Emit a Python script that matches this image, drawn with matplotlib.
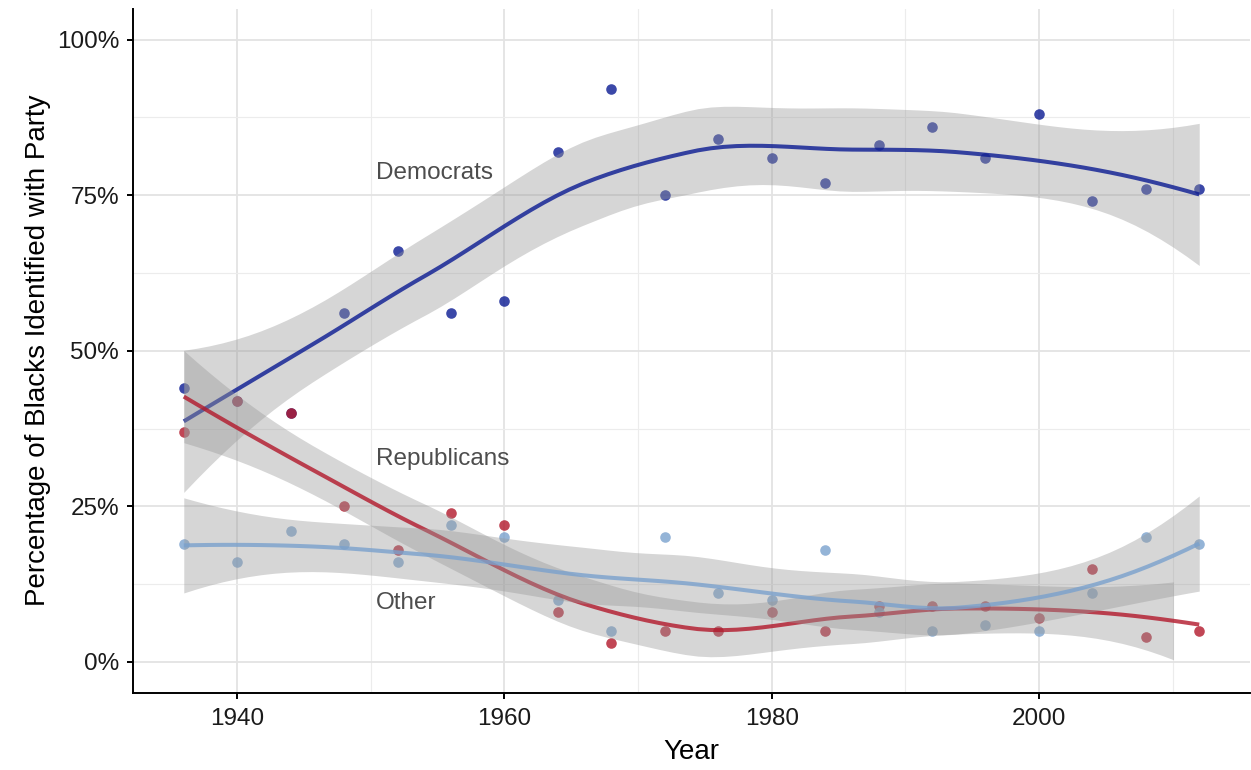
#!/usr/bin/env python3
import math
import numpy as np
import matplotlib
matplotlib.use('Agg')
import matplotlib.pyplot as plt
from matplotlib.ticker import MultipleLocator, FuncFormatter

years = [1936, 1940, 1944, 1948, 1952, 1956, 1960, 1964, 1968, 1972,
         1976, 1980, 1984, 1988, 1992, 1996, 2000, 2004, 2008, 2012]
democrats = [44, 42, 40, 56, 66, 56, 58, 82, 92, 75,
             84, 81, 77, 83, 86, 81, 88, 74, 76, 76]
republicans = [37, 42, 40, 25, 18, 24, 22, 8, 3, 5,
               5, 8, 5, 9, 9, 9, 7, 15, 4, 5]
other = [19, 16, 21, 19, 16, 22, 20, 10, 5, 20,
         11, 10, 18, 8, 5, 6, 5, 11, 20, 19]

party_names = ['Democrats', 'Republicans', 'Other']
party_colors = ['#0a1a92', '#b2182b', '#7aa1cd']
label_pos = [(1950.4, 0.785), (1950.4, 0.326), (1950.4, 0.095)]


def t_quantile(p, df):
    # numeric inverse of student t cdf, no scipy here
    c = math.exp(math.lgamma((df + 1) / 2) - math.lgamma(df / 2)) / math.sqrt(df * math.pi)
    grid = np.linspace(0, 20, 200001)
    pdf = c * (1 + grid ** 2 / df) ** (-(df + 1) / 2)
    cdf = 0.5 + np.concatenate([[0], np.cumsum((pdf[1:] + pdf[:-1]) / 2 * np.diff(grid))])
    return float(np.interp(p, cdf, grid))


def local_rows(x, pts, span=0.75):
    # operator rows for the local quadratic fit: value and slope at each pt
    n = len(x)
    q = int(np.floor(n * span))
    V = np.zeros((len(pts), n))
    D = np.zeros((len(pts), n))
    for i, x0 in enumerate(pts):
        d = np.abs(x - x0)
        h = np.sort(d)[q - 1]
        u = np.clip(d / h, 0, 1)
        w = (1 - u ** 3) ** 3
        X = np.vstack([np.ones(n), x - x0, (x - x0) ** 2]).T
        XtW = X.T * w
        B = np.linalg.solve(XtW @ X, XtW)
        V[i] = B[0]
        D[i] = B[1]
    return V, D


def kd_vertices(x, fc):
    # 1-d version of the loess kd tree: split cells at the median
    xs = np.sort(x)
    rng = xs[-1] - xs[0]
    verts = [xs[0] - 0.005 * rng, xs[-1] + 0.005 * rng]

    def split(pts):
        if len(pts) <= fc:
            return
        m = (len(pts) + 1) // 2
        v = (pts[m - 1] + pts[m]) / 2
        verts.append(v)
        split(pts[:m])
        split(pts[m:])

    split(xs)
    return np.array(sorted(verts))


def interp_rows(x, pts, span=0.75):
    # cubic hermite between kd vertices, like loess surface='interpolate'
    fc = int(np.floor(len(x) * span * 0.2))
    vx = kd_vertices(x, fc)
    V, D = local_rows(x, vx, span)
    L = np.zeros((len(pts), len(x)))
    for i, p in enumerate(pts):
        j = min(max(np.searchsorted(vx, p) - 1, 0), len(vx) - 2)
        h = vx[j + 1] - vx[j]
        t = (p - vx[j]) / h
        h00 = 2 * t ** 3 - 3 * t ** 2 + 1
        h10 = t ** 3 - 2 * t ** 2 + t
        h01 = -2 * t ** 3 + 3 * t ** 2
        h11 = t ** 3 - t ** 2
        L[i] = h00 * V[j] + h10 * h * D[j] + h01 * V[j + 1] + h11 * h * D[j + 1]
    return L


def smooth(x, y, n_out=80, level=0.95):
    x = np.asarray(x, float)
    y = np.asarray(y, float)
    xs = np.linspace(x.min(), x.max(), n_out)
    M = np.eye(len(x)) - interp_rows(x, x)
    MM = M.T @ M
    d1 = np.trace(MM)
    d2 = np.trace(MM @ MM)
    s = math.sqrt(np.sum((M @ y) ** 2) / d1)
    L = interp_rows(x, xs)
    fit = L @ y
    se = s * np.sqrt(np.sum(L ** 2, axis=1))
    ci = se * t_quantile(level / 2 + 0.5, d1 ** 2 / d2)
    return xs, fit, fit - ci, fit + ci


plt.rcParams['font.family'] = ['Liberation Sans', 'DejaVu Sans']

fig = plt.figure(figsize=(12.51, 7.7), dpi=100)
ax = fig.add_axes([133 / 1251, 1 - 693 / 770, 1117 / 1251, (693 - 8.5) / 770])

x = np.array(years)
series = [np.array(democrats) / 100, np.array(republicans) / 100, np.array(other) / 100]

for vals, col in zip(series, party_colors):
    ax.scatter(x, vals, s=58, color=col, alpha=0.8, linewidths=0, zorder=2)

for vals, col in zip(series, party_colors):
    xs, fit, lo, hi = smooth(x, vals)
    # limits 0..1 drop the ribbon where it goes outside
    bad = (lo < 0) | (hi > 1)
    lo = np.where(bad, np.nan, lo)
    hi = np.where(bad, np.nan, hi)
    ax.fill_between(xs, lo, hi, color='#999999', alpha=0.4, linewidth=0, zorder=3)
    ax.plot(xs, fit, color=col, alpha=0.8, lw=2.9, solid_capstyle='butt', zorder=3)

for name, (lx, ly) in zip(party_names, label_pos):
    ax.text(lx, ly, name, ha='left', va='center', fontsize=17.5, color='#4d4d4d', zorder=5)

ax.set_xlim(1936 - 0.05 * 76, 2012 + 0.05 * 76)
ax.set_ylim(-0.05, 1.05)
ax.xaxis.set_major_locator(MultipleLocator(20))
ax.xaxis.set_minor_locator(MultipleLocator(10))
ax.yaxis.set_major_locator(MultipleLocator(0.25))
ax.yaxis.set_minor_locator(MultipleLocator(0.125))
ax.yaxis.set_major_formatter(FuncFormatter(lambda v, p: '%d%%' % round(v * 100)))

ax.grid(which='major', color='#e3e3e3', lw=1.3, zorder=0)
ax.grid(which='minor', color='#ececec', lw=0.8, zorder=0)
ax.set_axisbelow(True)

for side in ['top', 'right']:
    ax.spines[side].set_visible(False)
for side in ['left', 'bottom']:
    ax.spines[side].set_linewidth(1.4)
    ax.spines[side].set_color('black')

ax.tick_params(which='major', length=4, width=1.4, color='black',
               labelsize=17.5, labelcolor='#1a1a1a')
ax.tick_params(axis='y', pad=6)
ax.tick_params(axis='x', pad=7)
ax.tick_params(which='minor', length=0)

ax.set_xlabel('Year', fontsize=20, labelpad=6)
ax.set_ylabel('Percentage of Blacks Identified with Party', fontsize=20, labelpad=4)

fig.savefig('out.png', dpi=100)
